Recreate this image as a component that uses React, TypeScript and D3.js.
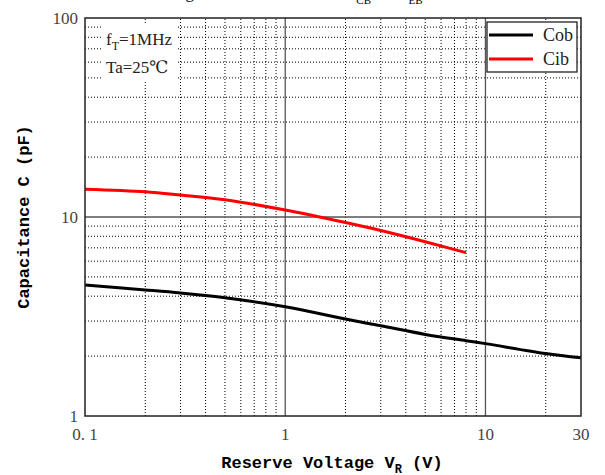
import React from 'react';
import * as d3 from 'd3';

// reverse voltage (V)
const voltages = [0.1, 0.2, 0.3, 0.5, 1, 2, 3, 5, 8, 10, 20, 30];
const cob = [4.55, 4.3, 4.15, 3.93, 3.54, 3.07, 2.84, 2.57, 2.39, 2.31, 2.06, 1.96];
const cibVoltages = [0.1, 0.2, 0.3, 0.5, 1, 2, 3, 5, 8];
const cib = [13.8, 13.4, 12.9, 12.2, 10.84, 9.38, 8.55, 7.51, 6.62];

const xTicks = [0.1, 1, 10, 30];
const xTickLabels = ['0. 1', '1', '10', '30'];
const yTicks = [1, 10, 100];
const yTickLabels = ['1', '10', '100'];

const seriesNames = ['Cob', 'Cib'];
const seriesColors = ['#000', '#f00'];

const width = 605, height = 475;
const margin = { top: 18, right: 24, bottom: 59, left: 85 };

export default function App() {
  const x = d3.scaleLog().domain([0.1, 30]).range([margin.left, width - margin.right]);
  const y = d3.scaleLog().domain([1, 100]).range([height - margin.bottom, margin.top]);

  const [x0, x1] = x.range();
  const [y0, y1] = y.range();

  // minor grid: 2..9 in every decade
  const xMinor: number[] = [];
  [0.1, 1, 10].forEach((d) => {
    for (let k = 2; k <= 9; k++) {
      const v = d * k;
      if (v < 30) xMinor.push(v);
    }
  });
  const yMinor: number[] = [];
  [1, 10].forEach((d) => {
    for (let k = 2; k <= 9; k++) yMinor.push(d * k);
  });

  const line = d3.line<[number, number]>()
    .x((d) => x(d[0]))
    .y((d) => y(d[1]))
    .curve(d3.curveCatmullRom);

  const cobPath = line(voltages.map((v, i) => [v, cob[i]]));
  const cibPath = line(cibVoltages.map((v, i) => [v, cib[i]]));

  const serif = '"Liberation Serif", "DejaVu Serif", serif';
  const mono = '"Liberation Mono", "DejaVu Sans Mono", monospace';

  return (
    <svg width={width} height={height} style={{ position: 'absolute', left: 0, top: 0 }}>
      {/* clipped title above plot */}
      <text y={-2} fontFamily={serif} fontSize={17} fill="#000">
        <tspan x={150}>Voltage</tspan>
        <tspan x={345}>C</tspan>
        <tspan dy={6} fontSize={11}>CB</tspan>
        <tspan dy={-6}> — V</tspan>
        <tspan dy={6} fontSize={11}>EB</tspan>
      </text>

      {/* minor grid */}
      {xMinor.map((v) => (
        <line key={'xm' + v} x1={x(v)} x2={x(v)} y1={y0} y2={y1}
          stroke="#000" strokeWidth={1} strokeDasharray="1,2" />
      ))}
      {yMinor.map((v) => (
        <line key={'ym' + v} x1={x0} x2={x1} y1={y(v)} y2={y(v)}
          stroke="#000" strokeWidth={1} strokeDasharray="1,2" />
      ))}
      {/* major grid */}
      {[1, 10].map((v) => (
        <line key={'xM' + v} x1={x(v)} x2={x(v)} y1={y0} y2={y1} stroke="#555" strokeWidth={1.3} />
      ))}
      <line x1={x0} x2={x1} y1={y(10)} y2={y(10)} stroke="#555" strokeWidth={1.3} />

      {/* condition notes */}
      <rect x={103} y={24} width={75} height={56} fill="#fff" />
      <text x={106} y={45} fontFamily={serif} fontSize={17} fill="#222">
        f<tspan dy={5} fontSize={12}>T</tspan><tspan dy={-5}>=1MHz</tspan>
      </text>
      <text x={106} y={73} fontFamily={serif} fontSize={17} fill="#222">Ta=25℃</text>

      {/* curves */}
      <path d={cobPath || ''} fill="none" stroke={seriesColors[0]} strokeWidth={3} />
      <path d={cibPath || ''} fill="none" stroke={seriesColors[1]} strokeWidth={3} />

      {/* frame */}
      <rect x={x0} y={y1} width={x1 - x0} height={y0 - y1} fill="none" stroke="#222" strokeWidth={1.5} />

      {/* legend */}
      <rect x={487} y={22} width={90} height={50} fill="#fff" stroke="#222" strokeWidth={1.3} />
      {seriesNames.map((name, i) => (
        <g key={name}>
          <line x1={489} x2={533} y1={35 + i * 24} y2={35 + i * 24} stroke={seriesColors[i]} strokeWidth={3} />
          <text x={543} y={41 + i * 24} fontFamily={serif} fontSize={18} fill="#222">{name}</text>
        </g>
      ))}

      {/* tick labels */}
      {xTicks.map((v, i) => (
        <text key={'xt' + v} x={x(v)} y={y0 + 24} textAnchor="middle"
          fontFamily={serif} fontSize={17} fill="#444">{xTickLabels[i]}</text>
      ))}
      {yTicks.map((v, i) => (
        <text key={'yt' + v} x={x0 - 7} y={y(v) + 6} textAnchor="end"
          fontFamily={serif} fontSize={17} fill="#444">{yTickLabels[i]}</text>
      ))}

      {/* axis titles */}
      <text x={332} y={468} textAnchor="middle" fontFamily={mono} fontWeight="bold" fontSize={17} fill="#000">
        Reserve Voltage V<tspan dy={5} fontSize={12}>R</tspan><tspan dy={-5}> (V)</tspan>
      </text>
      <text transform={`translate(29,${(y0 + y1) / 2}) rotate(-90)`} textAnchor="middle"
        fontFamily={mono} fontWeight="bold" fontSize={17} fill="#000">Capacitance C (pF)</text>
    </svg>
  );
}
